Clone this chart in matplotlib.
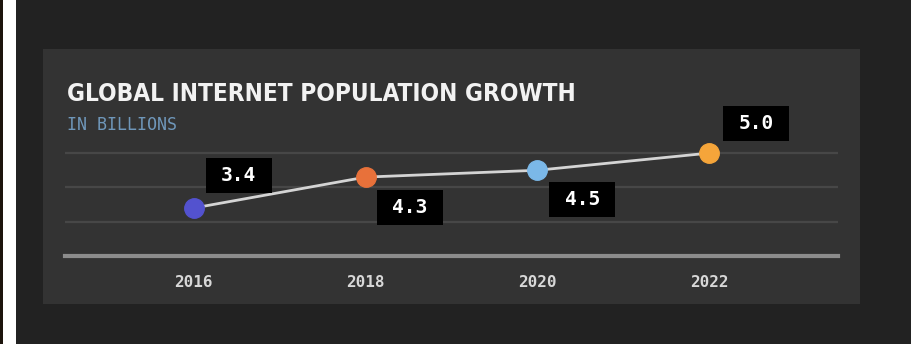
import matplotlib
matplotlib.use("Agg")
import matplotlib.pyplot as plt
from matplotlib.patches import Rectangle
from matplotlib.transforms import Affine2D, ScaledTranslation

# internet users, billions
years = [2016, 2018, 2020, 2022]
users = [3.4, 4.3, 4.5, 5.0]
year_labels = ["2016", "2018", "2020", "2022"]

point_colors = ["#5352cf", "#e8713a", "#7bb8e8", "#f5a53a"]
label_offsets = [(45, 32), (44, -30), (45, -29), (47, 30)]  # pixels from the point
BOX_W, BOX_H = 66, 35

W, H = 911, 344
fig = plt.figure(figsize=(W / 100, H / 100), dpi=100)
fig.patch.set_facecolor("#222222")

def px(x, y, w, h):
    # pixel box (top-left origin) -> figure fraction
    return (x / W, 1 - (y + h) / H, w / W, h / H)

# white margin on the left edge
fig.patches.append(Rectangle((0, 0), 16 / W, 1, transform=fig.transFigure,
                             facecolor="white", edgecolor="none", zorder=-2))
fig.patches.append(Rectangle((0, 0), 3 / W, 1, transform=fig.transFigure,
                             facecolor="#1c140c", edgecolor="none", zorder=-2))

# card
x0, y0, w0, h0 = px(43, 49, 817, 255)
fig.patches.append(Rectangle((x0, y0), w0, h0, transform=fig.transFigure,
                             facecolor="#333333", edgecolor="none", zorder=-2))

fig.text(67 / W, 1 - 94 / H, "GLOBAL INTERNET POPULATION GROWTH",
         color="#f2f2f2", fontsize=17.5, fontweight="bold", fontstretch="condensed",
         family="DejaVu Sans", va="center", ha="left")
fig.text(67 / W, 1 - 125 / H, "IN BILLIONS", color="#6f97ba", fontsize=12,
         family="DejaVu Sans Mono", va="center", ha="left")

# plot area: baseline at y=256px for 2.0, 34.3px per unit
ymin, ymax = 2.0, 5.6
top_px = 256 - (ymax - ymin) * 34.3
ax = fig.add_axes(px(65, top_px, 773, 256 - top_px))
ax.set_facecolor("none")
ax.set_xlim(2014.5, 2023.5)
ax.set_ylim(ymin, ymax)

for g in [3, 4, 5]:
    ax.axhline(g, color="#474747", lw=1.6, zorder=1)
ax.axhline(ymin, color="#8c8c8c", lw=3, zorder=1, clip_on=False)

ax.plot(years, users, color="#d4d4d4", lw=2, zorder=2)
for x, v, c in zip(years, users, point_colors):
    ax.plot(x, v, "o", color=c, ms=14, mec=c, zorder=3)

# black value tags, sized in pixels and pinned to each point
for x, v, (dx, dy) in zip(years, users, label_offsets):
    pin = ScaledTranslation(x, v, ax.transData)
    ax.add_patch(Rectangle((dx - BOX_W / 2, dy - BOX_H / 2), BOX_W, BOX_H,
                           transform=Affine2D() + pin, facecolor="black",
                           edgecolor="none", zorder=4, clip_on=False))
    ax.text(dx, dy, f"{v:.1f}", transform=Affine2D() + pin,
            ha="center", va="center", color="white", fontsize=14,
            fontweight="bold", family="DejaVu Sans Mono", zorder=5)

ax.set_xticks(years)
ax.set_xticklabels(year_labels)
ax.tick_params(axis="x", length=0, pad=14, colors="#d8d8d8", labelsize=11.5)
for lab in ax.get_xticklabels():
    lab.set_family("DejaVu Sans Mono")
    lab.set_fontweight("bold")
ax.set_yticks([])
for s in ax.spines.values():
    s.set_visible(False)

fig.savefig("out.png", dpi=100, facecolor=fig.get_facecolor())
